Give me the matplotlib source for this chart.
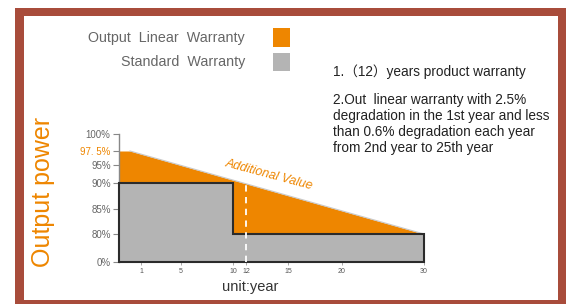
import numpy as np
import matplotlib.pyplot as plt
from matplotlib.patches import Rectangle

# values
years_axis = [0, 1, 5, 10, 12, 15, 20, 30]
years_px = [119, 141, 181, 233, 246, 288, 342, 424]      # where each year sits (px from left)
power_axis = [0, 80, 85, 90, 95, 97.5, 100]
power_px = [262, 234, 209, 183, 165, 151, 134]           # where each level sits (px from top)
power_labels = ['0%', '80%', '85%', '90%', '95%', '97. 5%', '100%']
x_ticks = [1, 5, 10, 12, 15, 20, 30]

linear_years = [0, 0.5, 30]
linear_power = [97.5, 97.5, 80]
standard_years = [0, 10, 30]
standard_power = [90, 80]
product_warranty_year = 12
product_warranty_level = 89.8

W, H = 571, 304
ORANGE = '#ee8600'
GREY = '#b4b4b4'
BORDER = '#a84c3b'
FONT = ['Liberation Sans', 'Noto Sans CJK SC', 'DejaVu Sans']

plt.rcParams['font.family'] = FONT

fig = plt.figure(figsize=(W / 100, H / 100), dpi=100)

def fx(px):
    return px / W

def fy(py):
    return 1 - py / H

#axes covers the chart area, scales are piecewise like the drawing
ax = fig.add_axes([fx(years_px[0]), fy(power_px[0]), fx(years_px[-1] - years_px[0]),
                   (power_px[0] - power_px[-1]) / H])
ypos = [H - p for p in power_px]
ax.set_xscale('function', functions=(lambda v: np.interp(v, years_axis, years_px),
                                     lambda v: np.interp(v, years_px, years_axis)))
ax.set_yscale('function', functions=(lambda v: np.interp(v, power_axis, ypos),
                                     lambda v: np.interp(v, ypos, power_axis)))
ax.set_xlim(0, 30)
ax.set_ylim(0, 100)
ax.patch.set_alpha(0)

# output linear warranty (orange) behind the standard one
ax.fill_between(linear_years, linear_power, 0, color=ORANGE, lw=0, zorder=1)
ax.plot(linear_years[1:], linear_power[1:], color='#c9c9c9', lw=0.8, zorder=2)

sx = [standard_years[0], standard_years[0], standard_years[1], standard_years[1],
      standard_years[2], standard_years[2]]
sy = [0, standard_power[0], standard_power[0], standard_power[1], standard_power[1], 0]
ax.fill(sx, sy, facecolor=GREY, edgecolor='#2b2b2b', lw=1.5, zorder=3, clip_on=False)

ax.plot([product_warranty_year] * 2, [0, product_warranty_level], color='white',
        lw=1.3, ls=(0, (3.5, 3)), zorder=4)

for s in ['top', 'right', 'bottom']:
    ax.spines[s].set_visible(False)
ax.spines['left'].set_color('#888888')
ax.spines['left'].set_linewidth(1)

ax.set_yticks(power_axis)
ax.set_yticklabels(power_labels, fontsize=7, color='#666666')
ax.get_yticklabels()[5].set_color(ORANGE)
ax.tick_params(axis='y', length=4, width=0.8, color='#888888', pad=2)
ax.set_xticks(x_ticks)
ax.set_xticklabels([str(t) for t in x_ticks], fontsize=5, color='#555555')
ax.tick_params(axis='x', length=2, width=0.6, color='#999999', pad=2)
ax.minorticks_off()

fig.text(fx(269), fy(175), 'Additional Value', color=ORANGE, fontsize=9, style='italic',
         rotation=-15, ha='center', va='center',
         family=['Liberation Sans Narrow', 'Liberation Sans'])

# texts
fig.text(fx(43), fy(192), 'Output power', color=ORANGE, fontsize=18, rotation=90,
         ha='center', va='center')
fig.text(fx(250), fy(287), 'unit:year', color='#333333', fontsize=10.5,
         ha='center', va='center')

fig.text(fx(245), fy(38), 'Output  Linear  Warranty', color='#666666', fontsize=10.3,
         ha='right', va='center')
fig.text(fx(245), fy(62), 'Standard  Warranty', color='#666666', fontsize=10.3,
         ha='right', va='center')
fig.patches.append(Rectangle((fx(273), fy(47)), fx(17), 19 / H, transform=fig.transFigure,
                             facecolor=ORANGE, edgecolor='none'))
fig.patches.append(Rectangle((fx(273), fy(71)), fx(17), 18 / H, transform=fig.transFigure,
                             facecolor=GREY, edgecolor='none'))

fig.text(fx(333), fy(72), '1.（12）years product warranty', color='#222222', fontsize=9.8,
         ha='left', va='center')
note = ['2.Out  linear warranty with 2.5%',
        'degradation in the 1st year and less',
        'than 0.6% degradation each year',
        'from 2nd year to 25th year']
for i, line in enumerate(note):
    fig.text(fx(333), fy(100 + 16 * i), line, color='#222222', fontsize=9.8,
             ha='left', va='center')

# frame
for x0, y0, w, h in [(15, 8, 9, 296), (15, 8, 551, 8), (558, 8, 8, 296), (15, 300, 551, 4)]:
    fig.patches.append(Rectangle((fx(x0), fy(y0 + h)), fx(w), h / H,
                                 transform=fig.transFigure, facecolor=BORDER,
                                 edgecolor='none'))

fig.savefig('out.png', dpi=100)
